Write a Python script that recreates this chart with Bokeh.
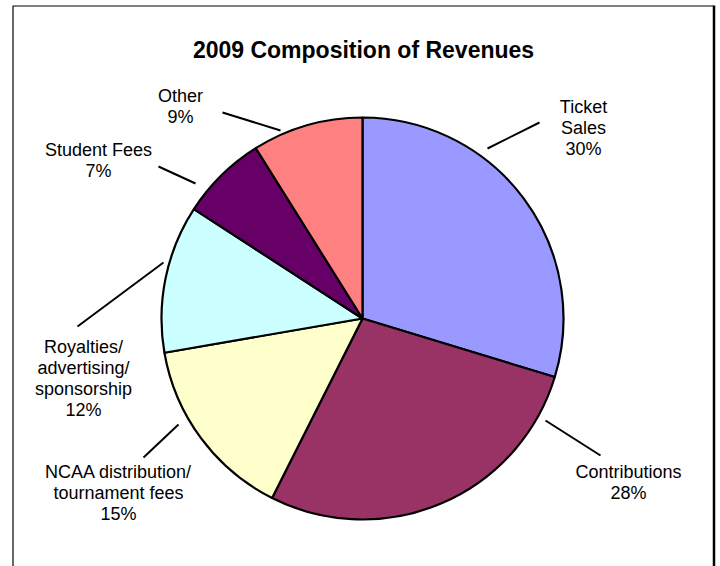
import numpy as np
from bokeh.plotting import figure
from bokeh.models import Range1d, ColumnDataSource
from bokeh.core.properties import value
from bokeh.embed import file_html
from bokeh.resources import INLINE

# ---- data ----
categories = ["Ticket Sales", "Contributions", "NCAA distribution/tournament fees",
              "Royalties/advertising/sponsorship", "Student Fees", "Other"]
label_lines = [["Ticket", "Sales", "30%"],
               ["Contributions", "28%"],
               ["NCAA distribution/", "tournament fees", "15%"],
               ["Royalties/", "advertising/", "sponsorship", "12%"],
               ["Student Fees", "7%"],
               ["Other", "9%"]]
shares = [30, 28, 15, 12, 7, 9]
colors = ["#9999FF", "#993366", "#FFFFCC", "#CCFFFF", "#660066", "#FF8080"]

W, H = 720, 566
p = figure(width=W, height=H, output_backend="svg", toolbar_location=None,
           x_range=Range1d(0, W), y_range=Range1d(0, H), min_border=0)
p.axis.visible = False
p.grid.visible = False
p.outline_line_color = None
p.background_fill_color = "white"
p.border_fill_color = "white"

# layout helpers: picture pixels -> data units
def X(px):
    return px
def Y(py):
    return H - py

# border
p.line([X(12.5), X(12.5), X(713)], [Y(H + 5), Y(5.5), Y(5.5)],
       line_color="black", line_width=1.2)
p.line([X(713.5), X(713.5)], [Y(5), Y(H + 5)], line_color="black", line_width=2.5)

# pie
vals = np.array(shares, dtype=float)
frac = vals / vals.sum()
cum = np.concatenate([[0], np.cumsum(frac)])
start = np.pi / 2 - cum[:-1] * 2 * np.pi
end = np.pi / 2 - cum[1:] * 2 * np.pi
cx, cy, r = X(362), Y(318), 201
src = ColumnDataSource(dict(start=start, end=end, color=colors, name=categories))
p.wedge(x=cx, y=cy, radius=r, start_angle="start", end_angle="end",
        direction="clock", fill_color="color", line_color="black",
        line_width=2.2, source=src)

# title
p.text(x=[X(363)], y=[Y(49)], text=["2009 Composition of Revenues"],
       text_font=value("Liberation Sans"), text_font_style="bold",
       text_font_size="23px", text_align="center", text_baseline="middle",
       text_color="black")

# labels: (center x, first-line middle y) in picture pixels
label_pos = [(583, 106), (628, 471), (118, 471), (83, 346), (98, 149), (180, 95)]
line_gap = 21
tx, ty, tt = [], [], []
for lines, (lx, ly) in zip(label_lines, label_pos):
    for i, s in enumerate(lines):
        tx.append(X(lx)); ty.append(Y(ly + i * line_gap)); tt.append(s)
p.text(x=tx, y=ty, text=tt, text_font=value("Liberation Sans"),
       text_font_size="18px", text_align="center", text_baseline="middle",
       text_color="black")

# leader lines (picture pixels)
leaders = [((487, 148), (539, 122)),
           ((545, 420), (600, 455)),
           ((178, 424), (143, 457)),
           ((163, 262), (77, 326)),
           ((195, 183), (158, 166)),
           ((280, 130), (222, 112))]
x0 = [X(a[0]) for a, b in leaders]; y0 = [Y(a[1]) for a, b in leaders]
x1 = [X(b[0]) for a, b in leaders]; y1 = [Y(b[1]) for a, b in leaders]
p.segment(x0=x0, y0=y0, x1=x1, y1=y1, line_color="black", line_width=2)

open("out.html", "w").write(file_html(p, INLINE))
